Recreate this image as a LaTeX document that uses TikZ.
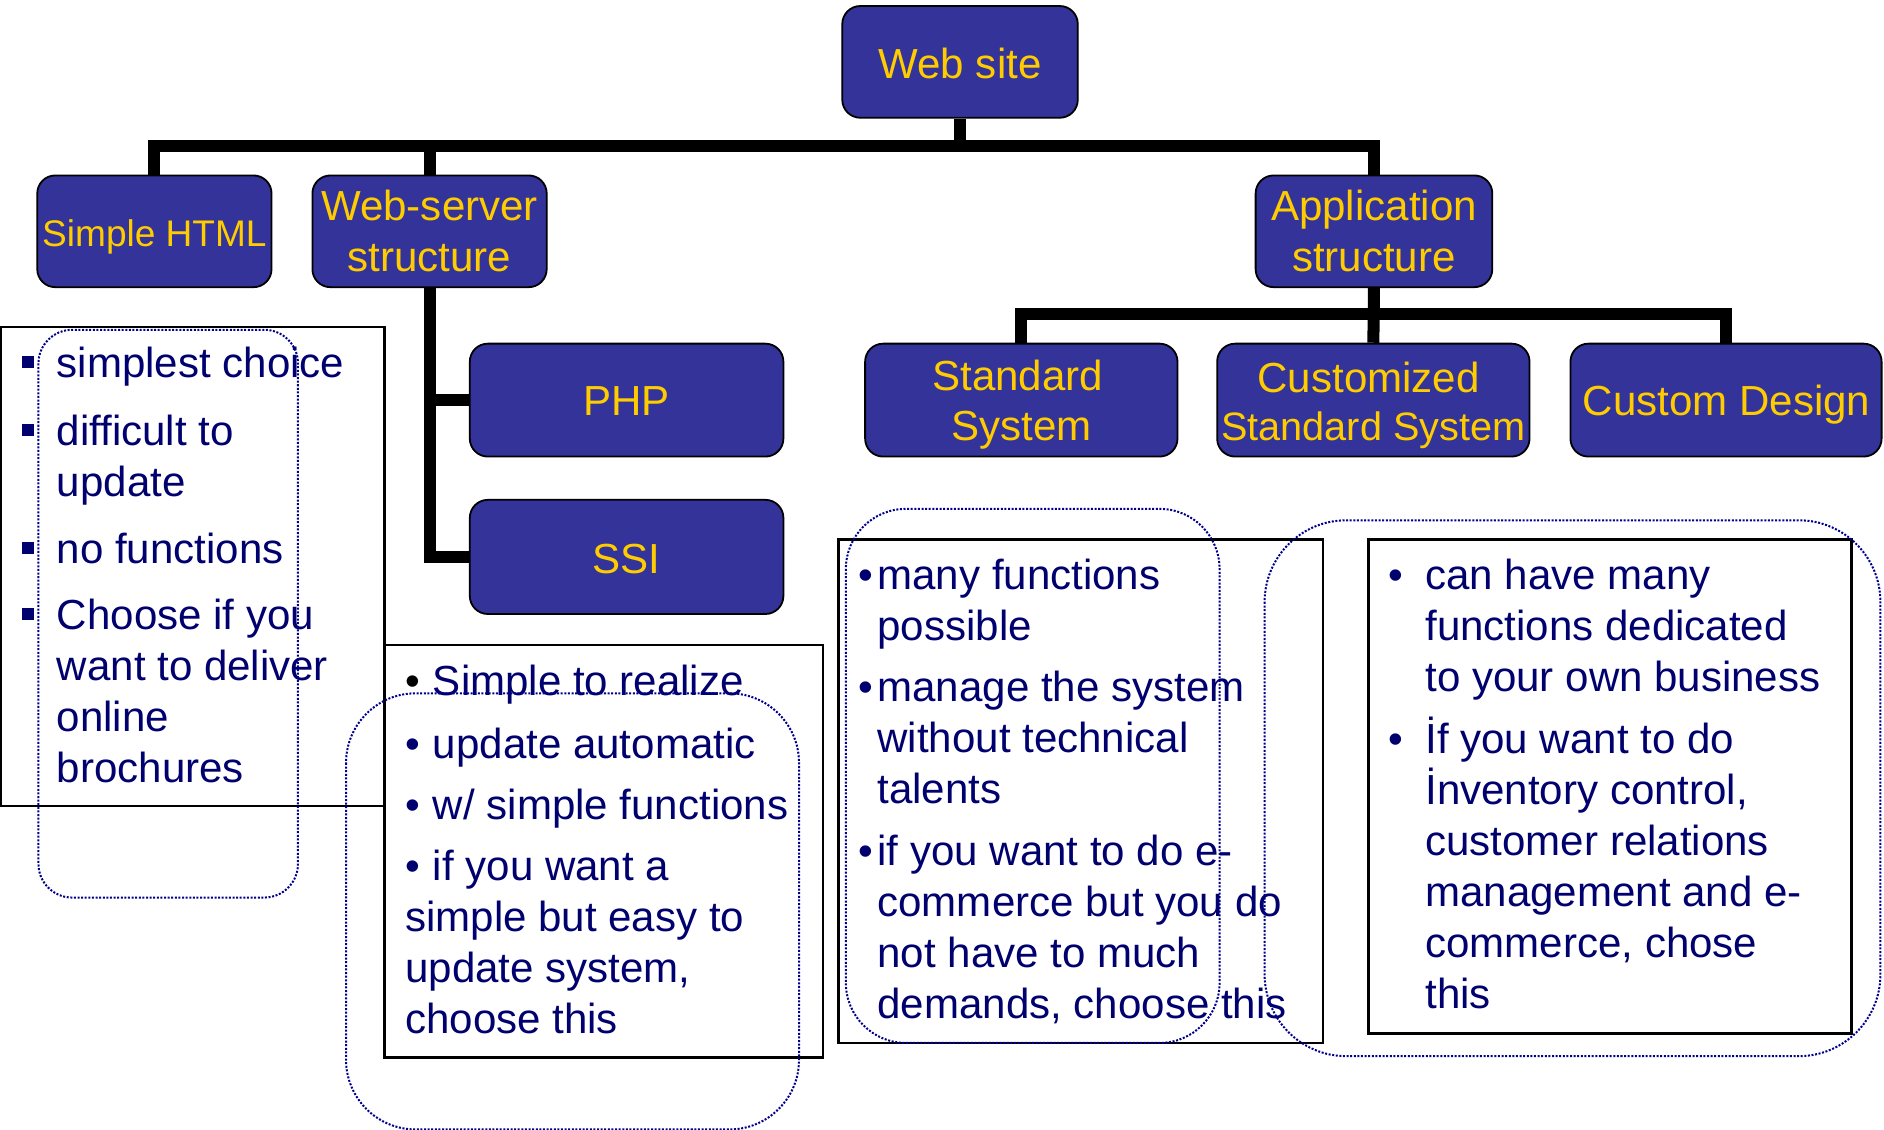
\documentclass[tikz,border=0pt]{standalone}
\usepackage{fontspec}
\setmainfont{Liberation Sans}
\usetikzlibrary{backgrounds}
\definecolor{boxblue}{RGB}{51,51,153}
\definecolor{boxyellow}{RGB}{255,204,0}
\definecolor{navytext}{RGB}{0,0,110}
\definecolor{dotblue}{RGB}{0,0,140}
\begin{document}
\begin{tikzpicture}[x=0.6pt,y=-0.6pt,
  conn/.style={line width=6pt, line join=miter},
  bluebox/.style={draw=black, line width=0.9pt, fill=boxblue, rounded corners=9pt, inner sep=0pt},
  boxtxt/.style={text=boxyellow, font=\fontsize{21}{25.2}\selectfont, anchor=base, inner sep=0pt},
  tbox/.style={draw=black, line width=1.2pt},
  txt/.style={text=navytext, font=\fontsize{21}{25.5}\selectfont, anchor=base west, inner sep=0pt},
  sqb/.style={fill=navytext, minimum size=6pt, inner sep=0pt},
  dotbox/.style={draw=dotblue, line width=1pt, dash pattern=on 1pt off 0.8pt}
]
\useasboundingbox (0,0) rectangle (1568,940);

% ---- blue boxes ----
\node[bluebox, minimum width=117.6pt, minimum height=55.8pt] (web) at (799,51.5) {};
\node[bluebox, minimum width=117pt, minimum height=55.8pt] (html) at (128.5,192.5) {};
\node[bluebox, minimum width=117pt, minimum height=55.8pt] (ws) at (357.5,192.5) {};
\node[bluebox, minimum width=118.2pt, minimum height=55.8pt] (app) at (1143.5,192.5) {};
\node[bluebox, minimum width=156.6pt, minimum height=56.4pt] (php) at (521.5,333) {};
\node[bluebox, minimum width=156.6pt, minimum height=57pt] (ssi) at (521.5,463.5) {};
\node[bluebox, minimum width=156pt, minimum height=56.4pt] (std) at (850,333) {};
\node[bluebox, minimum width=156pt, minimum height=56.4pt] (cust) at (1143,333) {};
\node[bluebox, minimum width=155.4pt, minimum height=56.4pt] (cd) at (1436.5,333) {};

% box labels
\node[boxtxt] (webT) at (799,65.5) {Web site};
\node[boxtxt, font=\fontsize{18.5}{22}\selectfont] (htmlT) at (128.5,205) {Simple HTML};
\node[boxtxt] (wsT1) at (357.5,183.5) {Web-server};
\node[boxtxt] (wsT2) at (357.5,226) {structure};
\node[boxtxt] (appT1) at (1143.5,183.5) {Application};
\node[boxtxt] (appT2) at (1143.5,226) {structure};
\node[boxtxt] (phpT) at (521.5,346) {PHP};
\node[boxtxt] (ssiT) at (521.5,477.5) {SSI};
\node[boxtxt] (stdT1) at (847,325) {Standard};
\node[boxtxt] (stdT2) at (850,367) {System};
\node[boxtxt] (custT1) at (1139,326.5) {Customized};
\node[boxtxt, font=\fontsize{19.8}{23.8}\selectfont] (custT2) at (1143,367) {Standard System};
\node[boxtxt] (cdT) at (1437,346) {Custom Design};

% ---- connectors ----
\begin{scope}[on background layer]
\draw[conn] (web.south) -- ++(0,24);
\draw[conn] (html.north) -- ++(0,-24) -| (app.north);
\draw[conn] (ws.north) -- ++(0,-24);
\draw[conn] (ws.south) |- (ssi.west);
\draw[conn] (ws.south |- php.west) -- (php.west);
\draw[conn] (app.south) -- (cust.north);
\draw[conn] (std.north) -- ++(0,-24) -| (cd.north);
\end{scope}

% ---- text boxes ----
\draw[tbox] (0.8,272) rectangle (320,671);
\draw[tbox] (320,537) rectangle (685,880);
\draw[tbox] (698,449) rectangle (1101,868);
\draw[tbox] (1139,449) rectangle (1541,860);

% Box A
\node[sqb] (qa1) at (23,301) {};
\node[txt] (a1) at (47,314) {simplest choice};
\node[sqb] (qa2) at (23,358) {};
\node[txt] (a2) at (47,371) {difficult to};
\node[txt] (a3) at (47,413.5) {update};
\node[sqb] (qa3) at (23,456) {};
\node[txt] (a4) at (47,469) {no functions};
\node[sqb] (qa4) at (23,511) {};
\node[txt] (a5) at (47,524) {Choose if you};
\node[txt] (a6) at (47,566.5) {want to deliver};
\node[txt] (a7) at (47,609) {online};
\node[txt] (a8) at (47,651.5) {brochures};

% Box B
\node[txt, text=black] (bb1) at (337,579) {•};
\node[txt] (b1) at (360,579) {Simple to realize};
\node[txt] (bb2) at (337,631) {•};
\node[txt] (b2) at (360,631) {update automatic};
\node[txt] (bb3) at (337,682) {•};
\node[txt] (b3) at (360,682) {w/ simple functions};
\node[txt] (bb4) at (337,733) {•};
\node[txt] (b4) at (360,733) {if you want a};
\node[txt] (b5) at (337,775.5) {simple but easy to};
\node[txt] (b6) at (337,818) {update system,};
\node[txt] (b7) at (337,860.5) {choose this};

% Box C
\node[txt] (cb1) at (714.5,490.5) {•};
\node[txt] (c1) at (730,490.5) {many functions};
\node[txt] (c2) at (730,533) {possible};
\node[txt] (cb2) at (714.5,584) {•};
\node[txt] (c3) at (730,584) {manage the system};
\node[txt] (c4) at (730,626.5) {without technical};
\node[txt] (c5) at (730,669) {talents};
\node[txt] (cb3) at (714.5,720) {•};
\node[txt] (c6) at (730,720) {if you want to do e-};
\node[txt] (c7) at (730,762.5) {commerce but you do};
\node[txt] (c8) at (730,805) {not have to much};
\node[txt] (c9) at (730,847.5) {demands, choose this};

% Box D
\node[txt] (db1) at (1155.5,491) {•};
\node[txt] (d1) at (1186,491) {can have many};
\node[txt] (d2) at (1186,533) {functions dedicated};
\node[txt] (d3) at (1186,575.5) {to your own business};
\node[txt] (db2) at (1155.5,627) {•};
\node[txt] (d4) at (1186,627) {İf you want to do};
\node[txt] (d5) at (1186,669.5) {İnventory control,};
\node[txt] (d6) at (1186,712) {customer relations};
\node[txt] (d7) at (1186,754.5) {management and e-};
\node[txt] (d8) at (1186,797) {commerce, chose};
\node[txt] (d9) at (1186,839.5) {this};

% ---- dotted rounded outlines ----
\draw[dotbox, rounded corners=16.8pt] (32,274.5) rectangle (248,747);
\draw[dotbox, rounded corners=34.8pt] (288,577) rectangle (665,940);
\draw[dotbox, rounded corners=30pt] (704,423.5) rectangle (1015,868);
\draw[dotbox, rounded corners=40.8pt] (1052.5,433) rectangle (1565,879);
\end{tikzpicture}
\end{document}
